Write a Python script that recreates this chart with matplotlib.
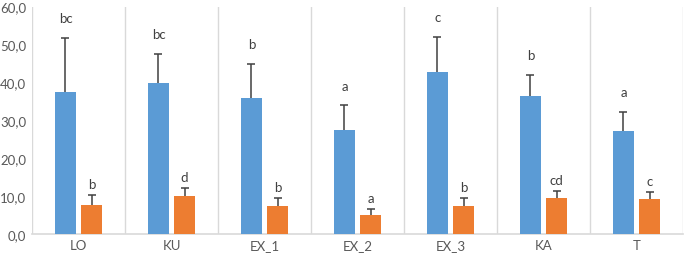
import matplotlib
matplotlib.use("Agg")
import matplotlib.pyplot as plt
import numpy as np
from matplotlib.ticker import FuncFormatter

categories = ["LO", "KU", "EX_1", "EX_2", "EX_3", "KA", "T"]
blue_vals = [37.5, 39.8, 35.8, 27.3, 42.7, 36.5, 27.1]
blue_err = [14.3, 7.7, 9.0, 6.6, 9.3, 5.5, 5.0]
orange_vals = [7.7, 10.1, 7.5, 5.0, 7.5, 9.4, 9.1]
orange_err = [2.6, 2.1, 2.0, 1.6, 2.0, 1.9, 1.9]
blue_letters = ["bc", "bc", "b", "a", "c", "b", "a"]
orange_letters = ["b", "d", "b", "a", "b", "cd", "c"]
yticks = [0, 10, 20, 30, 40, 50, 60]

plt.rcParams['font.family'] = ['Lato', 'DejaVu Sans']

fig = plt.figure(figsize=(6.85, 2.55), dpi=100)
ax = fig.add_axes([32/685, 20/255, 651/685, 227.5/255])

x = np.arange(len(categories))
w = 0.226
off = 0.14
blue = "#5B9BD5"
orange = "#ED7D31"
ecol = "#404040"

ax.bar(x - off, blue_vals, w, color=blue, zorder=3)
ax.bar(x + off, orange_vals, w, color=orange, zorder=3)
for xs, vals, errs in [(x - off, blue_vals, blue_err), (x + off, orange_vals, orange_err)]:
    eb = ax.errorbar(xs, vals, yerr=[np.zeros(len(x)), errs], fmt='none',
                     ecolor=ecol, elinewidth=1.1, capsize=3, capthick=1.1, zorder=2.5)
    caps = eb.lines[1]
    if len(caps) == 2:
        caps[0].set_visible(False)

for i in range(len(x)):
    ax.annotate(blue_letters[i], (x[i] - off, blue_vals[i] + blue_err[i]),
                xytext=(0, 10), textcoords='offset points', ha='center', va='bottom',
                fontsize=9.5, color=ecol)
    ax.annotate(orange_letters[i], (x[i] + off, orange_vals[i] + orange_err[i]),
                xytext=(0, 3.5), textcoords='offset points', ha='center', va='bottom',
                fontsize=9.5, color=ecol)

ax.set_xlim(-0.5, len(x) - 0.5)
ax.set_ylim(0, 60)
ax.set_yticks(yticks)
ax.yaxis.set_major_formatter(FuncFormatter(lambda v, p: f"{v:.1f}".replace(".", ",")))
ax.set_xticks(x)
ax.set_xticklabels(categories)
ax.set_xticks(np.arange(len(x) + 1) - 0.5, minor=True)
ax.grid(which='minor', axis='x', color="#D9D9D9", linewidth=1, zorder=0)
ax.tick_params(axis='both', which='both', length=0, labelsize=9.5, colors="#595959")
ax.tick_params(axis='y', pad=4)
ax.tick_params(axis='x', pad=3.5)
for s in ['top', 'right', 'left']:
    ax.spines[s].set_visible(False)
ax.spines['bottom'].set_color("#D9D9D9")
ax.spines['bottom'].set_linewidth(1.2)

fig.savefig("out.png", dpi=100)
